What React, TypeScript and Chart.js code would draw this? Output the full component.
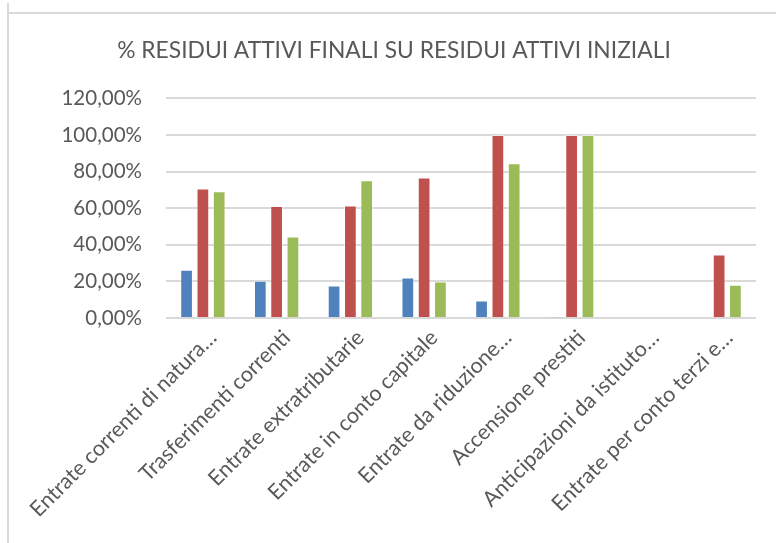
import React, { useEffect, useRef } from "react";
import { Chart, registerables } from "chart.js";

Chart.register(...registerables);

const TITLE = "% RESIDUI ATTIVI FINALI SU RESIDUI ATTIVI INIZIALI";

const categories = [
  "Entrate correnti di natura…",
  "Trasferimenti correnti",
  "Entrate extratributarie",
  "Entrate in conto capitale",
  "Entrate da riduzione…",
  "Accensione prestiti",
  "Anticipazioni da istituto…",
  "Entrate per conto terzi e…",
];

const seriesBlue = [26.3, 20.3, 17.7, 22.1, 9.5, 0.3, 0, 0];
const seriesRed = [70.7, 61.2, 61.5, 76.7, 100, 100, 0, 34.7];
const seriesGreen = [69.2, 44.5, 75.2, 19.9, 84.5, 100, 0, 18.2];

const yMax = 120;
const yStep = 20;

const FONT = "Lato, 'Open Sans', sans-serif";
const TEXT = "#595959";

export default function App() {
  const ref = useRef<HTMLCanvasElement | null>(null);

  useEffect(() => {
    if (!ref.current) return;
    const chart = new Chart(ref.current, {
      type: "bar",
      data: {
        labels: categories,
        datasets: [
          { label: "A", data: seriesBlue, backgroundColor: "#4F81BD", borderColor: "rgba(255,255,255,0.45)", borderWidth: 1 },
          { label: "B", data: seriesRed, backgroundColor: "#C0504D", borderColor: "rgba(255,255,255,0.45)", borderWidth: 1 },
          { label: "C", data: seriesGreen, backgroundColor: "#9BBB59", borderColor: "rgba(255,255,255,0.45)", borderWidth: 1 },
        ],
      },
      options: {
        animation: false,
        responsive: false,
        maintainAspectRatio: false,
        datasets: { bar: { categoryPercentage: 0.663, barPercentage: 0.78 } },
        layout: { padding: { left: 32, right: 20, top: 0, bottom: 0 } },
        plugins: {
          legend: { display: false },
          tooltip: { enabled: false },
          title: {
            display: true,
            text: TITLE,
            color: TEXT,
            font: { family: FONT, size: 22.8, weight: "normal" },
            padding: { top: 37, bottom: 34 },
          },
        },
        scales: {
          x: {
            grid: { display: false, drawTicks: false },
            border: { display: false },
            ticks: {
              color: TEXT,
              font: { family: FONT, size: 21.5 },
              minRotation: 45,
              maxRotation: 45,
              autoSkip: false,
              padding: 7,
              labelOffset: 10,
            },
            afterFit: (s: any) => {
              s.height = 225;
            },
          },
          y: {
            min: 0,
            max: yMax,
            grid: { color: "#D9D9D9", lineWidth: 2, drawTicks: false },
            border: { display: false },
            ticks: {
              stepSize: yStep,
              color: TEXT,
              font: { family: FONT, size: 20.5 },
              padding: 24,
              callback: (v: any) => Number(v).toFixed(2).replace(".", ",") + "%",
            },
            afterFit: (s: any) => {
              s.width = 134;
            },
          },
        },
      },
    });
    return () => chart.destroy();
  }, []);

  return (
    <div style={{ position: "absolute", left: 0, top: 0, width: 776, height: 543, background: "#fff", overflow: "hidden" }}>
      <canvas ref={ref} width={776} height={543} style={{ position: "absolute", left: 0, top: 0 }} />
      <div style={{ position: "absolute", left: 7, top: 3, width: 2, height: 540, background: "#D9D9D9" }} />
      <div style={{ position: "absolute", left: 9, top: 12, width: 767, height: 2, background: "#D9D9D9" }} />
    </div>
  );
}
